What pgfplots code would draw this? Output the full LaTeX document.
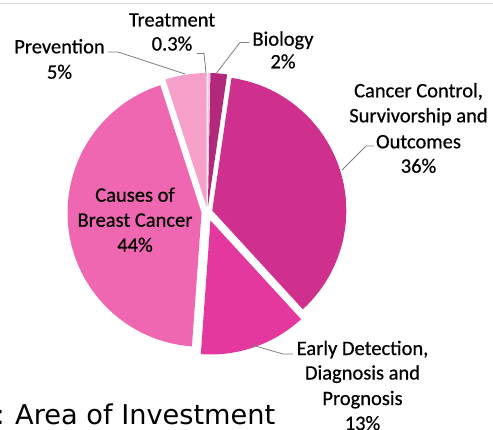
\documentclass[border=0pt]{standalone}
\usepackage{pgfplots}
\usepackage{pgfplotstable}
\pgfplotsset{compat=1.18}
\usepackage{fontspec}
\setmainfont{Carlito}
\newfontfamily\labfont{Carlito}[FakeBold=0.6]
\newfontfamily\titlefont{DejaVu Sans}

\definecolor{cTreat}{HTML}{F9C8DF}
\definecolor{cBio}{HTML}{B2287A}
\definecolor{cCC}{HTML}{D0308D}
\definecolor{cED}{HTML}{E4389F}
\definecolor{cCause}{HTML}{F067B1}
\definecolor{cPrev}{HTML}{F59FC9}
\definecolor{leader}{HTML}{7F7F7F}

% slices clockwise from 12 o'clock: value (%), explosion (pt), colour
\pgfplotstableread{
label      value explode color
Treatment  0.3   5       cTreat
Biology    2     5       cBio
Control    36    5       cCC
Early      13    9       cED
Causes     44    6       cCause
Prevention 5     5       cPrev
}\piedata

\begin{document}
\begin{tikzpicture}
\useasboundingbox (0,0) rectangle (493pt,429pt);
\clip (0,0) rectangle (493pt,429pt);
\begin{axis}[
  at={(0,0)}, anchor=south west,
  width=493pt, height=429pt, scale only axis,
  xmin=0, xmax=493, ymin=0, ymax=429,
  hide axis, clip=false,
  font=\labfont\fontsize{20.5}{25}\selectfont,
]
\def\cum{0}
\pgfplotsforeachungrouped \i in {0,...,5}{%
  \pgfplotstablegetelem{\i}{value}\of\piedata \let\v\pgfplotsretval
  \pgfplotstablegetelem{\i}{explode}\of\piedata \let\ex\pgfplotsretval
  \pgfplotstablegetelem{\i}{color}\of\piedata \let\col\pgfplotsretval
  \pgfmathsetmacro\aone{90-\cum/100.3*360}%
  \pgfmathsetmacro\newcum{\cum+\v}%
  \pgfmathsetmacro\atwo{90-\newcum/100.3*360}%
  \pgfmathsetmacro\amid{(\aone+\atwo)/2}%
  \pgfmathsetmacro\px{207.5+\ex*cos(\amid)}%
  \pgfmathsetmacro\py{217+\ex*sin(\amid)}%
  \edef\temp{\noexpand\fill[\col] (axis cs:\px,\py) -- ++(\aone:134pt) arc[start angle=\aone, end angle=\atwo, radius=134pt] -- cycle;}%
  \temp
  \xdef\cum{\newcum}%
}

% leader lines
\draw[leader, line width=0.8pt] (axis cs:108,377) -- (axis cs:118,377) -- (axis cs:185,355);
\draw[leader, line width=0.8pt] (axis cs:197,375.5) -- (axis cs:204,375.5) -- (axis cs:206,356);
\draw[leader, line width=0.8pt] (axis cs:249,386.5) -- (axis cs:240,386.5) -- (axis cs:216.5,356);
\draw[leader, line width=0.8pt] (axis cs:374,283) -- (axis cs:366,283) -- (axis cs:342,259);
\draw[leader, line width=0.8pt] (axis cs:293,75) -- (axis cs:283,75) -- (axis cs:252,84);

% labels
\node[anchor=base, inner sep=0] at (axis cs:172,402.5) {Treatment};
\node[anchor=base, inner sep=0] at (axis cs:172,378.5) {0.3\%};
\node[anchor=base, inner sep=0] at (axis cs:59.5,375.7) {Prevention};
\node[anchor=base, inner sep=0] at (axis cs:59.5,350.3) {5\%};
\node[anchor=base, inner sep=0] at (axis cs:283,383.3) {Biology};
\node[anchor=base, inner sep=0] at (axis cs:283,360.7) {2\%};
\node[anchor=base, inner sep=0] at (axis cs:418.5,331.7) {Cancer Control,};
\node[anchor=base, inner sep=0] at (axis cs:418.5,306.7) {Survivorship and};
\node[anchor=base, inner sep=0] at (axis cs:418.5,280.7) {Outcomes};
\node[anchor=base, inner sep=0] at (axis cs:418.5,256.3) {36\%};
\node[anchor=base, inner sep=0] at (axis cs:362.5,74) {Early Detection,};
\node[anchor=base, inner sep=0] at (axis cs:362.5,49.5) {Diagnosis and};
\node[anchor=base, inner sep=0] at (axis cs:362.5,24) {Prognosis};
\node[anchor=base, inner sep=0] at (axis cs:362.5,-1) {13\%};
\node[anchor=base, inner sep=0] at (axis cs:135,227.3) {Causes of};
\node[anchor=base, inner sep=0] at (axis cs:135,202.3) {Breast Cancer};
\node[anchor=base, inner sep=0] at (axis cs:135,177.3) {44\%};

% caption fragment and top rule
\node[anchor=base west, inner sep=0, font=\titlefont\fontsize{27.2}{30}\selectfont] at (axis cs:15,5) {Area of Investment};
\node[anchor=base east, inner sep=0, font=\titlefont\fontsize{27.2}{30}\selectfont] at (axis cs:5,5) {:};
\draw[color=black!15, line width=0.8pt] (axis cs:0,426) -- (axis cs:493,426);
\end{axis}
\end{tikzpicture}
\end{document}
